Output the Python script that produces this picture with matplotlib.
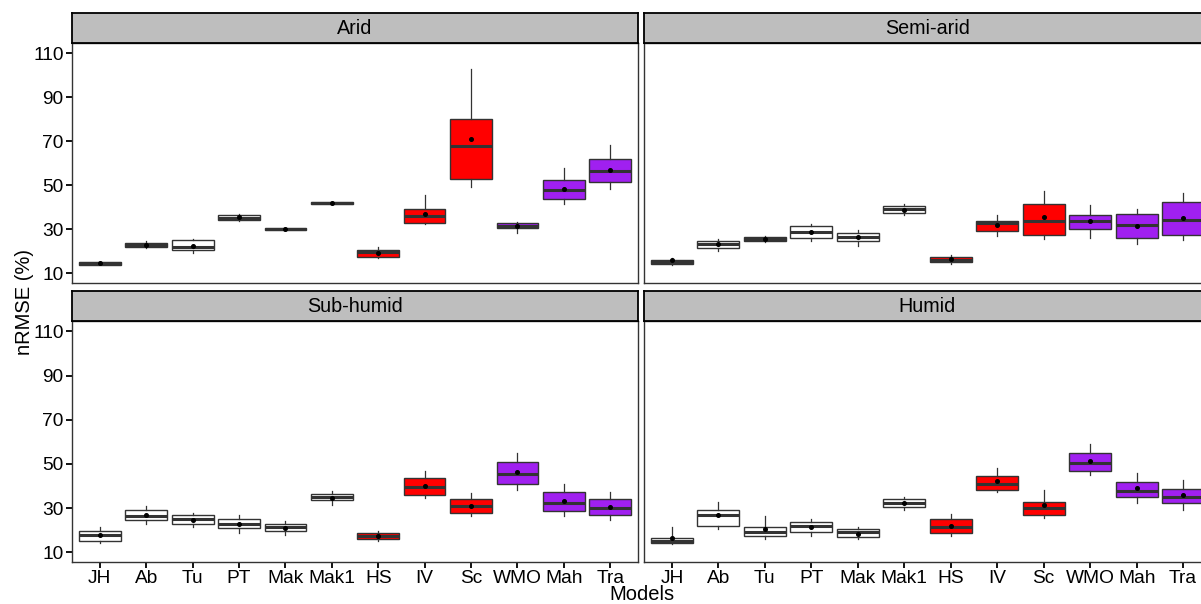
import matplotlib
matplotlib.use('Agg')
import matplotlib.pyplot as plt

plt.rcParams['font.family'] = ['Liberation Sans', 'DejaVu Sans']

models = ['JH', 'Ab', 'Tu', 'PT', 'Mak', 'Mak1', 'HS', 'IV', 'Sc', 'WMO', 'Mah', 'Tra']
fills = ['white'] * 6 + ['#FF0000'] * 3 + ['#A020F0'] * 3
climates = ['Arid', 'Semi-arid', 'Sub-humid', 'Humid']

# Arid
arid_lo   = [13.8, 21.5, 19.1, 33.7, 29.5, 41.3, 17.0, 32.3, 49.4, 28.2, 41.4, 48.5]
arid_q1   = [14.0, 22.0, 20.7, 34.1, 29.6, 41.5, 17.6, 33.0, 53.0, 30.6, 43.8, 51.4]
arid_med  = [14.5, 23.0, 22.0, 35.1, 30.0, 41.9, 19.5, 36.2, 67.7, 31.6, 48.0, 56.5]
arid_q3   = [15.0, 24.0, 25.1, 36.5, 30.4, 42.3, 20.8, 39.1, 80.0, 32.7, 52.3, 62.0]
arid_hi   = [15.2, 24.5, 25.7, 37.1, 30.6, 42.5, 21.8, 45.4, 102.7, 33.3, 57.9, 68.2]
arid_mean = [14.5, 23.0, 22.5, 35.4, 30.0, 41.9, 19.4, 37.1, 71.0, 31.4, 48.5, 57.1]

# Semi-arid
semi_lo   = [14.0, 20.3, 24.1, 24.8, 22.5, 36.4, 14.3, 27.0, 25.5, 25.9, 23.5, 25.1]
semi_q1   = [14.4, 21.6, 24.8, 26.2, 24.7, 37.3, 15.0, 29.1, 27.5, 30.0, 26.2, 27.5]
semi_med  = [15.3, 23.2, 25.7, 28.8, 26.4, 39.2, 16.0, 32.7, 33.6, 33.6, 32.1, 34.1]
semi_q3   = [16.2, 24.7, 26.5, 31.4, 28.2, 40.7, 17.4, 33.9, 41.6, 36.6, 36.8, 42.3]
semi_hi   = [16.9, 25.6, 26.9, 32.5, 29.9, 41.5, 18.5, 36.4, 47.5, 40.9, 39.1, 46.5]
semi_mean = [16.0, 23.5, 25.7, 29.0, 26.4, 39.0, 16.4, 32.1, 35.5, 34.0, 31.7, 35.1]

# Sub-humid
sub_lo   = [14.1, 22.8, 21.3, 18.9, 17.8, 31.6, 15.0, 34.5, 26.4, 38.4, 26.4, 24.7]
sub_q1   = [14.9, 24.4, 23.0, 21.0, 19.8, 33.6, 16.0, 35.9, 27.8, 40.7, 28.5, 27.0]
sub_med  = [17.8, 26.4, 24.9, 23.0, 21.3, 35.2, 17.3, 39.7, 30.8, 45.5, 32.3, 30.2]
sub_q3   = [19.8, 29.0, 26.7, 25.1, 22.8, 36.6, 18.6, 43.5, 34.2, 51.0, 37.5, 33.9]
sub_hi   = [21.5, 30.8, 27.8, 26.8, 24.1, 37.7, 19.8, 46.6, 36.8, 55.0, 40.9, 37.4]
sub_mean = [17.7, 27.0, 24.7, 23.0, 21.1, 34.7, 17.3, 40.0, 31.0, 46.2, 33.3, 30.7]

# Humid
hum_lo   = [13.7, 20.6, 16.0, 17.2, 15.8, 29.2, 17.2, 37.5, 25.6, 44.9, 32.5, 29.3]
hum_q1   = [14.1, 22.1, 17.3, 19.4, 16.9, 30.5, 18.9, 38.4, 26.7, 47.0, 34.8, 32.5]
hum_med  = [15.2, 26.7, 19.4, 21.8, 19.0, 32.5, 21.6, 40.9, 29.9, 50.4, 37.8, 35.1]
hum_q3   = [16.3, 29.0, 21.3, 23.9, 20.7, 34.0, 24.9, 44.4, 32.8, 54.8, 42.0, 38.6]
hum_hi   = [21.6, 32.8, 26.2, 25.1, 21.3, 34.9, 27.4, 48.3, 38.2, 58.9, 46.1, 42.9]
hum_mean = [16.4, 26.9, 20.6, 21.3, 18.5, 32.5, 22.1, 42.1, 31.6, 51.3, 38.9, 35.9]

stats_by_climate = [
    (arid_lo, arid_q1, arid_med, arid_q3, arid_hi, arid_mean),
    (semi_lo, semi_q1, semi_med, semi_q3, semi_hi, semi_mean),
    (sub_lo, sub_q1, sub_med, sub_q3, sub_hi, sub_mean),
    (hum_lo, hum_q1, hum_med, hum_q3, hum_hi, hum_mean),
]

W, H = 1201, 604
fig = plt.figure(figsize=(W / 100, H / 100), dpi=100)

# panel boxes in pixels; right column runs past the image edge (cropped like the original)
cols = [(72, 638), (644, 1211)]
rows = [(43, 283), (321, 562)]
strip_h = 30


def px_rect(x0, y0, x1, y1):
    return [x0 / W, (H - y1) / H, (x1 - x0) / W, (y1 - y0) / H]


for k, name in enumerate(climates):
    r, c = divmod(k, 2)
    x0, x1 = cols[c]
    y0, y1 = rows[r]
    ax = fig.add_axes(px_rect(x0, y0, x1, y1))

    lo, q1, med, q3, hi, mn = stats_by_climate[k]
    stats = []
    for i in range(len(models)):
        stats.append({'whislo': lo[i], 'q1': q1[i], 'med': med[i], 'q3': q3[i],
                      'whishi': hi[i], 'mean': mn[i], 'fliers': [], 'label': models[i]})

    bp = ax.bxp(stats, positions=range(1, len(models) + 1), widths=0.9,
                patch_artist=True, showfliers=False, showmeans=True, showcaps=False,
                boxprops=dict(edgecolor='#333333', linewidth=1.0),
                whiskerprops=dict(color='#333333', linewidth=0.9),
                medianprops=dict(color='#333333', linewidth=2.2),
                meanprops=dict(marker='o', markersize=2.6, markerfacecolor='black',
                               markeredgecolor='black'))
    for patch, f in zip(bp['boxes'], fills):
        patch.set_facecolor(f)

    ax.set_xlim(0.4, 12.6)
    ax.set_ylim(5.6, 114.7)
    ax.set_yticks(range(10, 111, 20))
    ax.set_xticks(range(1, len(models) + 1))
    for sp in ax.spines.values():
        sp.set_color('#333333')
        sp.set_linewidth(1.0)

    ax.tick_params(axis='both', length=4, width=1.3, color='black',
                   labelsize=13.8, labelcolor='black', pad=2)
    if c == 0:
        ax.set_yticklabels([str(v) for v in range(10, 111, 20)])
    else:
        ax.tick_params(axis='y', length=0, labelleft=False)
    if r == 1:
        ax.set_xticklabels(models)
    else:
        ax.tick_params(axis='x', length=0, labelbottom=False)

    # facet strip
    sax = fig.add_axes(px_rect(x0, y0 - strip_h, x1, y0))
    sax.set_facecolor('#BEBEBE')
    sax.set_xticks([])
    sax.set_yticks([])
    for sp in sax.spines.values():
        sp.set_color('black')
        sp.set_linewidth(1.3)
    sax.text(0.5, 0.48, name, ha='center', va='center', fontsize=14.2,
             transform=sax.transAxes)

fig.text(641.5 / W, 1 - 595 / H, 'Models', ha='center', va='center', fontsize=14.5)
fig.text(24 / W, 1 - 302 / H, 'nRMSE (%)', ha='center', va='center',
         rotation=90, fontsize=14.5)

fig.savefig('out.png', dpi=100)
